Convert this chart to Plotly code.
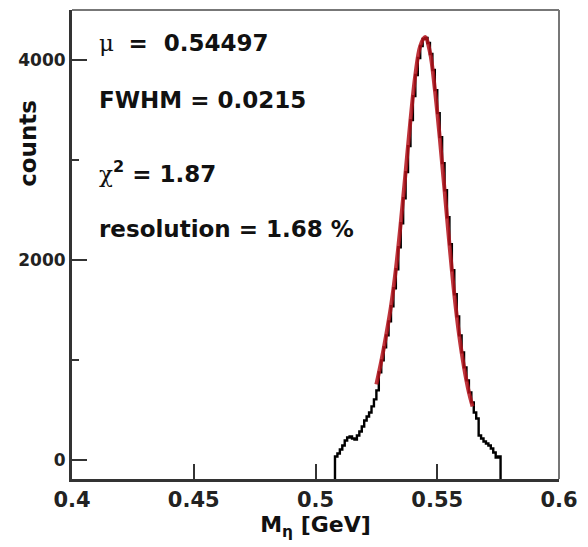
import plotly.graph_objects as go

# ---- data ----
bin_width = 0.001
bin_start = 0.508
hist_counts = [40, 70, 110, 150, 200, 230, 240, 220, 210, 250,
               290, 340, 400, 440, 480, 540, 610, 700, 880, 1000,
               1130, 1250, 1390, 1540, 1720, 1910, 2130, 2370, 2620, 2880,
               3140, 3400, 3640, 3850, 4020, 4140, 4210, 4220, 4170, 4060,
               3900, 3700, 3470, 3230, 2970, 2700, 2430, 2160, 1900, 1660,
               1440, 1250, 1080, 930, 800, 680, 580, 480, 420, 250,
               220, 190, 170, 150, 120, 80, 30, 40]

fit_x = [0.525, 0.527, 0.529, 0.531, 0.533, 0.535, 0.537, 0.539, 0.541, 0.543,
         0.545, 0.547, 0.549, 0.551, 0.553, 0.555, 0.557, 0.559, 0.561, 0.563, 0.5645]
fit_y = [760, 990, 1250, 1540, 1910, 2370, 2880, 3400, 3850, 4140,
         4230, 4080, 3710, 3230, 2700, 2160, 1660, 1250, 930, 680, 540]

x_ticks = [0.4, 0.45, 0.5, 0.55, 0.6]
x_tick_labels = ["0.4", "0.45", "0.5", "0.55", "0.6"]
y_ticks = [0, 2000, 4000]
y_tick_labels = ["0", "2000", "4000"]

X_RANGE = [0.4, 0.6]
Y_RANGE = [-185, 4500]

# ---- build step outline (drops to the bottom frame at both ends) ----
edges = [bin_start + i * bin_width for i in range(len(hist_counts) + 1)]
step_x = [edges[0]] + edges[:-1] + [edges[-1]]
step_y = [Y_RANGE[0]] + hist_counts + [Y_RANGE[0]]

FONT = "DejaVu Sans"

fig = go.Figure()
fig.add_trace(go.Scatter(x=step_x, y=step_y, mode="lines",
                         line=dict(color="black", width=2.4, shape="hv"),
                         showlegend=False, hoverinfo="skip"))
fig.add_trace(go.Scatter(x=fit_x, y=fit_y, mode="lines",
                         line=dict(color="#b5121b", width=4, shape="spline", smoothing=1.0),
                         opacity=0.85, showlegend=False, hoverinfo="skip"))

ann_font = dict(family=FONT, size=23, color="#111")
texts = [
    ("<span style='font-weight:normal;font-family:DejaVu Serif'>\u03bc</span>  <b>=  0.54497</b>", 43),
    ("<b>FWHM = 0.0215</b>", 100),
    ("<span style='font-weight:normal;font-family:DejaVu Serif'>\u03c7</span><b><sup>2</sup> = 1.87</b>", 172),
    ("<b>resolution = 1.68 %</b>", 229),
]
for t, ypix in texts:
    fig.add_annotation(text=t, xref="paper", yref="paper",
                       x=(97 - 72) / 496, y=1 - (ypix - 10) / 469,
                       xanchor="left", yanchor="middle", showarrow=False,
                       font=ann_font)

# y axis title placed high like the reference
fig.add_annotation(text="<b>counts</b>", xref="paper", yref="paper",
                   x=(27 - 72) / 496, y=1 - (143 - 10) / 469,
                   xanchor="center", yanchor="middle", textangle=-90,
                   showarrow=False, font=dict(family=FONT, size=23, color="#111"))

# top and right frame in lighter gray
fig.add_shape(type="line", xref="paper", yref="paper", x0=0, x1=1, y0=1, y1=1,
              line=dict(color="#777", width=2))
fig.add_shape(type="line", xref="paper", yref="paper", x0=1, x1=1, y0=0, y1=1,
              line=dict(color="#777", width=2))

fig.update_layout(
    width=588, height=547,
    margin=dict(l=72, r=20, t=10, b=68),
    paper_bgcolor="white", plot_bgcolor="white",
    xaxis=dict(range=X_RANGE, tickvals=x_ticks, ticktext=x_tick_labels,
               ticks="inside", ticklen=15, tickwidth=1.5, tickcolor="#333",
               showline=True, linecolor="#333", linewidth=3,
               showgrid=False, zeroline=False,
               tickfont=dict(family=FONT, size=21, color="#222", weight="bold"),
               title=dict(text="<b>M<sub>\u03b7</sub> [GeV]</b>",
                          font=dict(family=FONT, size=22, color="#111"),
                          standoff=6)),
    yaxis=dict(range=Y_RANGE, tickvals=y_ticks, ticktext=y_tick_labels,
               ticks="inside", ticklen=15, tickwidth=1.5, tickcolor="#333",
               minor=dict(dtick=1000, tick0=0, ticks="inside", ticklen=7, tickcolor="#333"),
               showline=True, linecolor="#333", linewidth=3,
               showgrid=False, zeroline=False,
               tickfont=dict(family=FONT, size=17, color="#222", weight="bold")),
)

fig.write_html("out.html")
